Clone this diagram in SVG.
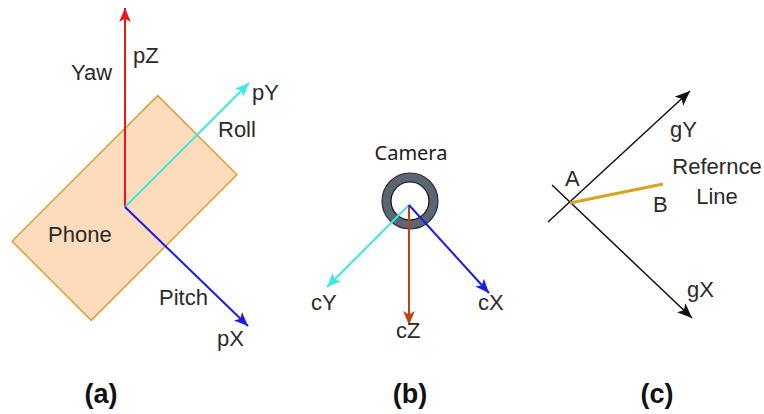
<svg xmlns="http://www.w3.org/2000/svg" width="764" height="414" viewBox="0 0 764 414">
<style>
  text { font-family: "Liberation Sans", Arial, sans-serif; font-size: 22px; fill: #2a2a2a; }
  .cap { font-weight: bold; font-size: 27px; fill: #111; text-anchor: middle; }
  .mid { text-anchor: middle; }
  .ax { fill: none; stroke-width: 2; }
</style>
<defs>
  <marker id="mRed" viewBox="0 0 12 10" refX="12" refY="5" markerWidth="14" markerHeight="12" markerUnits="userSpaceOnUse" orient="auto"><path d="M0,0 L12,5 L0,10 L3,5 Z" fill="#f01515"/></marker>
  <marker id="mCyan" viewBox="0 0 12 10" refX="12" refY="5" markerWidth="14" markerHeight="12" markerUnits="userSpaceOnUse" orient="auto"><path d="M0,0 L12,5 L0,10 L3,5 Z" fill="#3ae8e8"/></marker>
  <marker id="mBlue" viewBox="0 0 12 10" refX="12" refY="5" markerWidth="14" markerHeight="12" markerUnits="userSpaceOnUse" orient="auto"><path d="M0,0 L12,5 L0,10 L3,5 Z" fill="#1a1af0"/></marker>
  <marker id="mOrange" viewBox="0 0 12 10" refX="12" refY="5" markerWidth="14" markerHeight="12" markerUnits="userSpaceOnUse" orient="auto"><path d="M0,0 L12,5 L0,10 L3,5 Z" fill="#c4400f"/></marker>
  <marker id="mBlack" viewBox="0 0 12 10" refX="12" refY="5" markerWidth="15" markerHeight="13" markerUnits="userSpaceOnUse" orient="auto"><path d="M0,0 L12,5 L0,10 L3,5 Z" fill="#111"/></marker>
</defs>

<g id="panel-a">
  <g id="phone">
    <rect x="-103" y="-56" width="206" height="112" transform="translate(124.5,208) rotate(-45)" fill="#fcdcbc" stroke="#d6a13a" stroke-width="1.5"/>
    <text x="48" y="242">Phone</text>
  </g>
  <g id="connectors-a">
    <line class="ax" x1="125" y1="207" x2="125" y2="8" stroke="#f01515" marker-end="url(#mRed)"/>
    <line class="ax" x1="125" y1="207" x2="249" y2="83" stroke="#3ae8e8" marker-end="url(#mCyan)"/>
    <line class="ax" x1="125" y1="207" x2="248" y2="326" stroke="#1a1af0" marker-end="url(#mBlue)"/>
  </g>
  <g id="labels-a">
    <text x="133" y="63">pZ</text>
    <text x="71" y="80">Yaw</text>
    <text x="252" y="100">pY</text>
    <text x="218" y="137">Roll</text>
    <text x="159" y="305">Pitch</text>
    <text x="217" y="346">pX</text>
  </g>
  <text class="cap" x="101" y="403">(a)</text>
</g>

<g id="panel-b">
  <g id="camera">
    <circle cx="410" cy="201" r="23.5" fill="none" stroke="#5b6673" stroke-width="9"/>
    <circle cx="410" cy="201" r="28" fill="none" stroke="#2a2f36" stroke-width="1.2"/>
    <circle cx="410" cy="201" r="19" fill="none" stroke="#111" stroke-width="1.2"/>
    <text class="mid" x="411" y="160" style="font-family:'Noto Sans','Liberation Sans',sans-serif;font-size:20px;fill:#1a1a1a">Camera</text>
  </g>
  <g id="connectors-b">
    <line class="ax" x1="409" y1="205" x2="327" y2="287" stroke="#3ae8e8" marker-end="url(#mCyan)"/>
    <line class="ax" x1="409" y1="205" x2="409" y2="325" stroke="#c4400f" marker-end="url(#mOrange)"/>
    <line class="ax" x1="409" y1="205" x2="489" y2="293" stroke="#1a1af0" marker-end="url(#mBlue)"/>
  </g>
  <g id="labels-b">
    <text x="311" y="310">cY</text>
    <text x="396" y="338">cZ</text>
    <text x="478" y="310">cX</text>
  </g>
  <text class="cap" x="410" y="403">(b)</text>
</g>

<g id="panel-c">
  <g id="connectors-c">
    <line x1="548" y1="222" x2="690" y2="91" stroke="#111" stroke-width="1.5" marker-end="url(#mBlack)"/>
    <line x1="552" y1="185" x2="692" y2="318" stroke="#111" stroke-width="1.5" marker-end="url(#mBlack)"/>
    <line x1="570" y1="203" x2="663" y2="184" stroke="#d9a21e" stroke-width="3"/>
  </g>
  <g id="labels-c">
    <text x="565" y="186">A</text>
    <text x="670" y="137">gY</text>
    <text class="mid" x="717" y="174">Refernce</text>
    <text class="mid" x="717" y="204">Line</text>
    <text x="653" y="212">B</text>
    <text x="687" y="297">gX</text>
  </g>
  <text class="cap" x="657" y="403">(c)</text>
</g>
</svg>
